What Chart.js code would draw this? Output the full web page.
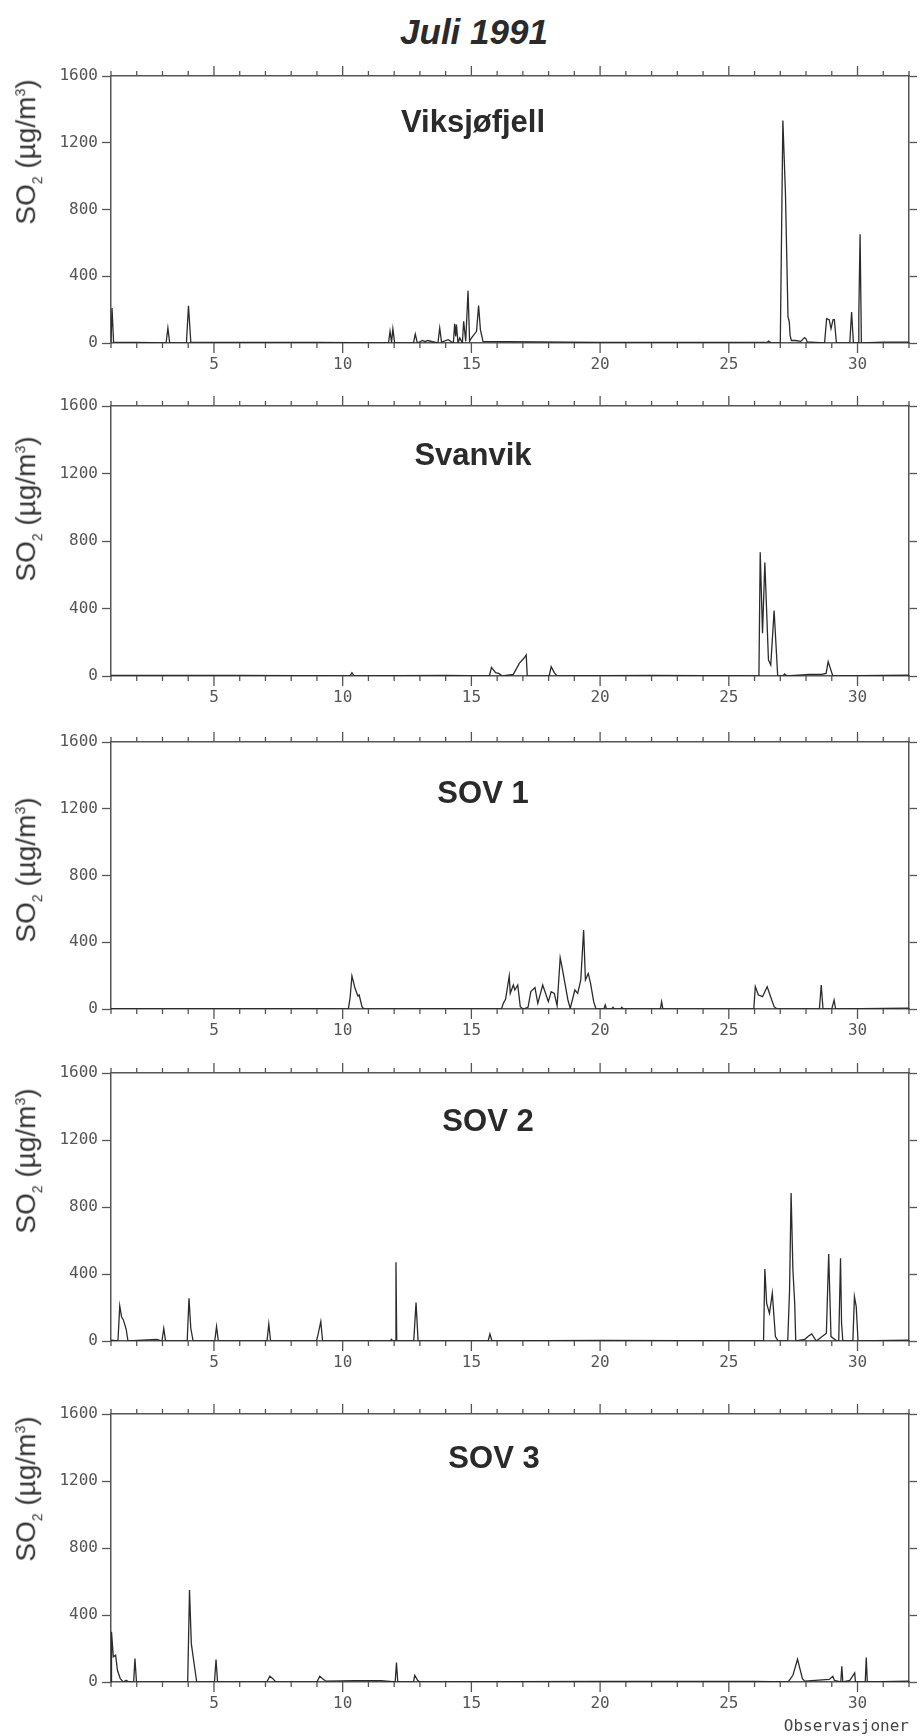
<!DOCTYPE html>
<html>
<head>
<meta charset="utf-8">
<script src="https://cdn.jsdelivr.net/npm/chart.js@4.4.0/dist/chart.umd.min.js"></script>
<style>
  body { margin: 0; background: #fff; width: 921px; height: 1736px; position: relative; overflow: hidden;
         font-family: "Liberation Sans", Arial, sans-serif; color: #2a2a2a; }
  canvas { position: absolute; left: 0; }
  .lbl { position: absolute; transform: translate(-50%, -50%); white-space: nowrap; line-height: 1; }
  .main { font-size: 35px; font-weight: bold; font-style: italic; }
  .station { font-size: 31px; font-weight: bold; }
  .ytitle { font-size: 28px; transform: translate(-50%, -50%) rotate(-90deg); color: #333; }
  .ytitle sub, .ytitle sup { font-size: 14px; }
</style>
</head>
<body>
<div class="lbl main" style="left:474px; top:31px;">Juli 1991</div>
<div id="panels"></div>

<script>
// stations and tick labels
var stations = ["Viksjøfjell", "Svanvik", "SOV 1", "SOV 2", "SOV 3"];
var yTicks = [0, 400, 800, 1200, 1600];
var xLabels = [5, 10, 15, 20, 25, 30];

// hourly SO2 (day of July, µg/m3)
var viksDays = [1, 1.04, 1.1, 2, 3.14, 3.21, 3.28, 3.93, 4.01, 4.1, 6, 9, 11.78, 11.84, 11.9, 11.95, 12.02, 12.75, 12.82, 12.9,
  13.1, 13.2, 13.3, 13.7, 13.77, 13.84, 14.1, 14.3, 14.35, 14.39, 14.42, 14.48, 14.55, 14.65, 14.7, 14.78, 14.87, 14.93, 15.0,
  15.2, 15.28, 15.35, 15.45, 16.2, 16.4, 20, 24, 26.5, 26.55, 26.65, 27.0, 27.1, 27.2, 27.3, 27.35, 27.38, 27.43, 27.58,
  27.8, 27.94, 28.0, 28.05, 28.2, 28.72, 28.8, 28.9, 28.97, 29.05, 29.1, 29.18, 29.7, 29.77, 29.84, 30.02, 30.05, 30.1, 30.15, 31, 32];
var viksValues = [5, 210, 5, 3, 0, 90, 0, 0, 223, 5, 3, 3, 0, 70, 5, 85, 0, 0, 54, 0,
  15, 8, 15, 0, 90, 5, 20, 0, 115, 40, 110, 0, 30, 0, 130, 10, 313, 10, 30,
  70, 225, 80, 10, 8, 8, 3, 3, 5, 12, 0, 0, 1333, 900, 156, 126, 46, 15, 15,
  10, 32, 25, 5, 5, 0, 146, 140, 86, 140, 140, 0, 0, 186, 0, 0, 170, 652, 0, 5, 5];

var svanDays = [1, 6, 10.28, 10.36, 10.45, 14, 15.7, 15.78, 15.94, 16.06, 16.2, 16.63, 16.86, 17.04, 17.13, 17.17, 18.02, 18.1,
  18.22, 18.33, 22, 26.17, 26.22, 26.31, 26.4, 26.54, 26.63, 26.76, 26.9, 27.1, 27.17, 27.25, 28.13, 28.6, 28.78, 28.86, 29.04, 32];
var svanValues = [3, 3, 0, 20, 0, 3, 0, 51, 20, 15, 0, 10, 75, 105, 125, 0, 0, 55,
  20, 0, 3, 0, 733, 253, 673, 95, 65, 388, 0, 0, 12, 0, 10, 10, 15, 85, 0, 5];

var sov1Days = [1, 8, 10.22, 10.29, 10.36, 10.48, 10.59, 10.64, 10.75, 10.82, 14, 16.17, 16.24, 16.33, 16.47, 16.51, 16.63, 16.69,
  16.8, 16.9, 17.01, 17.2, 17.31, 17.47, 17.58, 17.77, 17.88, 17.99, 18.1, 18.22, 18.33, 18.45, 18.52, 18.61, 18.75, 18.84,
  19.02, 19.13, 19.25, 19.36, 19.43, 19.54, 19.63, 19.75, 19.84, 20.15, 20.2, 20.25, 20.45, 20.5, 20.55, 20.8, 20.84, 20.9,
  22.34, 22.39, 22.44, 25.97, 26.03, 26.15, 26.31, 26.49, 26.6, 26.76, 26.88, 28.52, 28.59, 28.66, 29.0, 29.09, 29.15, 32];
var sov1Values = [2, 2, 0, 70, 198, 124, 78, 84, 14, 0, 2, 0, 34, 60, 198, 94, 144, 114,
  144, 14, 0, 10, 104, 128, 34, 144, 94, 44, 104, 94, 20, 307, 253, 174, 54, 4,
  114, 94, 174, 473, 174, 213, 154, 44, 0, 0, 24, 0, 0, 10, 0, 0, 10, 0,
  0, 44, 0, 0, 134, 84, 74, 134, 84, 14, 0, 0, 144, 0, 0, 54, 0, 5];

var sov2Days = [1, 1.27, 1.34, 1.41, 1.48, 1.59, 1.66, 2.78, 2.98, 3.05, 3.12, 3.96, 4.03, 4.1, 4.19, 5.03, 5.1, 5.17, 7.06, 7.13,
  7.2, 8.98, 9.04, 9.15, 9.22, 11.85, 11.89, 11.95, 12.04, 12.07, 12.1, 12.76, 12.85, 12.93, 15.65, 15.72, 15.8, 20, 26.35,
  26.4, 26.47, 26.58, 26.69, 26.81, 26.92, 27.29, 27.36, 27.42, 27.49, 27.56, 27.6, 27.95, 28.1, 28.22, 28.4, 28.79, 28.88,
  28.97, 29.2, 29.27, 29.34, 29.38, 29.43, 29.82, 29.88, 29.95, 30.02, 32];
var sov2Values = [5, 0, 209, 145, 126, 70, 0, 10, 0, 76, 0, 0, 255, 76, 0, 0, 86, 0, 0, 102,
  0, 0, 36, 116, 0, 0, 10, 0, 0, 470, 0, 0, 229, 0, 0, 42, 0, 3, 0,
  430, 225, 165, 285, 26, 0, 0, 305, 883, 425, 225, 0, 10, 30, 42, 0, 46, 520,
  26, 0, 0, 494, 106, 0, 0, 265, 205, 0, 5];

var sov3Days = [1, 1.02, 1.09, 1.18, 1.25, 1.36, 1.48, 1.59, 1.7, 1.88, 1.93, 1.99, 3.98, 4.05, 4.12, 4.21, 4.33, 5.02, 5.08,
  5.14, 7.05, 7.17, 7.29, 7.4, 9.0, 9.11, 9.22, 9.35, 10.5, 11.5, 12.04, 12.09, 12.14, 12.75, 12.8, 12.91, 13.0, 20, 26,
  27.3, 27.4, 27.49, 27.67, 27.86, 27.95, 28.9, 29.04, 29.1, 29.35, 29.39, 29.43, 29.7, 29.89, 29.92, 30.3, 30.34, 30.38, 32];
var sov3Values = [0, 300, 150, 160, 70, 20, 0, 10, 0, 0, 140, 0, 0, 549, 229, 130, 0, 0, 134,
  0, 0, 34, 20, 0, 0, 34, 20, 5, 8, 8, 0, 116, 0, 0, 40, 10, 0, 3, 3,
  0, 20, 40, 136, 20, 5, 15, 34, 10, 0, 94, 0, 10, 54, 0, 0, 146, 0, 5];

var dayLists = [viksDays, svanDays, sov1Days, sov2Days, sov3Days];
var valueLists = [viksValues, svanValues, sov1Values, sov2Values, sov3Values];

// page layout
var plotTops = [76, 406, 742, 1073, 1414];
var plotBottoms = [343, 676, 1009, 1341, 1682];
var titlePos = [[473, 121], [473, 454], [483, 792], [488, 1120], [494, 1457]];
var yTitleY = [152, 509, 870, 1161, 1489];

var axisColor = "#555";
var tickFont = { family: "'DejaVu Sans Mono', monospace", size: 16 };

// minor/major day ticks on top and bottom frame
var dayTicks = {
  id: "dayTicks",
  afterDraw: function(chart) {
    var ctx = chart.ctx;
    var xs = chart.scales.x;
    var a = chart.chartArea;
    ctx.save();
    ctx.strokeStyle = axisColor;
    ctx.lineWidth = 1.3;
    ctx.beginPath();
    xs.ticks.forEach(function(t) {
      var px = xs.getPixelForValue(t.value);
      var len = t.value % 5 === 0 ? 10 : 5;
      ctx.moveTo(px, a.bottom); ctx.lineTo(px, a.bottom + len);
      ctx.moveTo(px, a.top); ctx.lineTo(px, a.top - len);
    });
    ctx.stroke();
    ctx.restore();
  }
};

var holder = document.getElementById("panels");

stations.forEach(function(name, i) {
  var last = i === stations.length - 1;
  var bottomH = last ? 54 : 44;
  var plotH = plotBottoms[i] - plotTops[i];
  var canvas = document.createElement("canvas");
  canvas.width = 921;
  canvas.height = 20 + plotH + bottomH;
  canvas.style.top = (plotTops[i] - 20) + "px";
  holder.appendChild(canvas);

  var t = document.createElement("div");
  t.className = "lbl station";
  t.style.left = titlePos[i][0] + "px";
  t.style.top = titlePos[i][1] + "px";
  t.textContent = name;
  holder.appendChild(t);

  var yt = document.createElement("div");
  yt.className = "lbl ytitle";
  yt.style.left = "28px";
  yt.style.top = yTitleY[i] + "px";
  yt.innerHTML = "SO<sub>2</sub> (µg/m<sup>3</sup>)";
  holder.appendChild(yt);

  var pts = dayLists[i].map(function(d, k) { return { x: d, y: valueLists[i][k] }; });

  new Chart(canvas, {
    type: "line",
    data: {
      datasets: [{
        label: name,
        data: pts,
        borderColor: "#2b2b2b",
        borderWidth: 1.3,
        pointRadius: 0,
        tension: 0,
        fill: false
      }]
    },
    options: {
      responsive: false,
      animation: false,
      layout: { padding: 0 },
      plugins: { legend: { display: false }, tooltip: { enabled: false } },
      scales: {
        x: {
          type: "linear", position: "bottom", min: 1, max: 32,
          border: { color: axisColor, width: 1.5 },
          grid: { drawOnChartArea: false, drawTicks: false },
          ticks: {
            stepSize: 1, autoSkip: false, maxRotation: 0, padding: 12,
            font: tickFont, color: "#555",
            callback: function(v) { return xLabels.indexOf(v) >= 0 ? String(v) : ""; }
          },
          title: {
            display: last, text: "Observasjoner", align: "end",
            font: tickFont, color: "#444", padding: { top: 0, bottom: 0 }
          },
          afterFit: function(s) { s.height = bottomH; }
        },
        xTop: {
          type: "linear", position: "top", min: 1, max: 32,
          border: { color: axisColor, width: 1.5 },
          grid: { display: false },
          ticks: { display: false },
          afterFit: function(s) { s.height = 20; }
        },
        y: {
          min: 0, max: 1600,
          border: { color: axisColor, width: 1.5 },
          grid: { drawOnChartArea: false, tickLength: 9, tickColor: axisColor, tickWidth: 1.3 },
          ticks: {
            stepSize: 400, padding: 4, font: tickFont, color: "#555",
            callback: function(v) { return yTicks.indexOf(v) >= 0 ? String(v) : ""; }
          },
          afterFit: function(s) { s.width = 111; }
        },
        yRight: {
          position: "right", min: 0, max: 1600,
          border: { color: axisColor, width: 1.5 },
          grid: { drawOnChartArea: false, tickLength: 8, tickColor: axisColor, tickWidth: 1.3 },
          ticks: { display: false, stepSize: 400 },
          afterFit: function(s) { s.width = 10; }
        }
      }
    },
    plugins: [dayTicks]
  });
});
</script>
</body>
</html>
